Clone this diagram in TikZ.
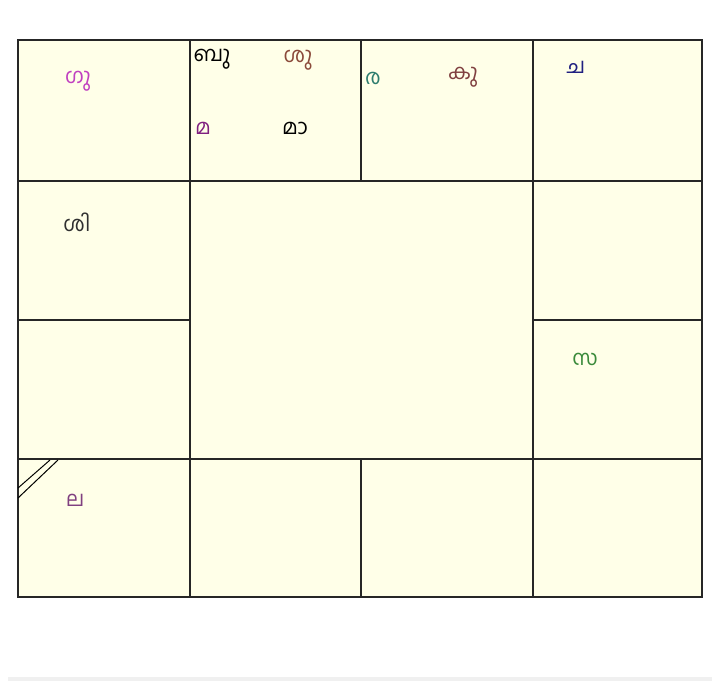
\documentclass[tikz,border=0pt]{standalone}
\usepackage{fontspec}
\newfontfamily\mlfont[Script=Malayalam]{Hind Kochi}
\definecolor{chartbg}{HTML}{FFFFE8}
\definecolor{cguru}{HTML}{C040C0}
\definecolor{csukra}{HTML}{8B4A3A}
\definecolor{ckuja}{HTML}{804040}
\definecolor{cmandi}{HTML}{802080}
\definecolor{crahu}{HTML}{2E7D6E}
\definecolor{cchandra}{HTML}{202080}
\definecolor{csani}{HTML}{303030}
\definecolor{csurya}{HTML}{3A8A3A}
\definecolor{clagna}{HTML}{804080}

\begin{document}
\begin{tikzpicture}[ x=1pt, y=-1pt,
        graha/.style={ font=\mlfont\fontsize{21}{21}\selectfont,
          inner sep=0pt },
        gridline/.style={ line width=1.5pt, draw=black!85 } ]
        \useasboundingbox (0,0) rectangle (719,681);
        \fill[black!6] (8,677) rectangle (712,681);

        \filldraw[fill=chartbg, gridline, line width=2pt] (18,40)
        rectangle (702,597);
        \foreach \y in {181,459} \draw[gridline] (18,\y) -- (702,\y);
        \foreach \x in {190,533} \draw[gridline] (\x,40) -- (\x,597);
        \draw[gridline] (18,320) -- (190,320); \draw[gridline]
        (533,320) -- (702,320); \draw[gridline] (361,40) --
        (361,181); \draw[gridline] (361,459) -- (361,597);

        % lagna mark
        \draw[line width=1pt] (18,488) -- (50,460) (18,498) -- (58,460);

        \foreach \x/\y/\l/\c [count=\i] in
        {78/81/ഗു/cguru,212/59/ബു/black,298/60/ശു/csukra,
        203/128/മ/cmandi,295/128/മാ/black,373/78/ര/crahu,
        463/77/കു/ckuja,576/67/ച/cchandra,77/222/ശി/csani,
        585/359/സ/csurya,75/500/ല/clagna}
        \node[graha,text=\c] (p\i) at (\x,\y) {\l};
      \end{tikzpicture}
\end{document}
